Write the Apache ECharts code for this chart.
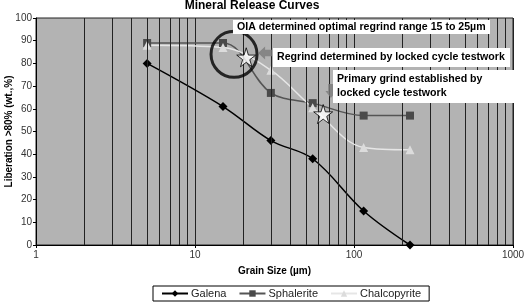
<!DOCTYPE html>
<html>
<head>
<meta charset="utf-8">
<script src="https://cdn.jsdelivr.net/npm/echarts@6/dist/echarts.min.js"></script>
<style>
	html, body {margin: 0; padding: 0; background: #fff;}
	#chart {width: 525px; height: 303px;}
</style>
</head>
<body>
<div id="chart"></div>
<script>
// grain sizes (µm) and liberation values
const grainSizes = [5, 15, 30, 55, 115, 225];
const galena = [80, 61, 46, 38, 15, 0];
const sphalerite = [89, 89, 67, 62.5, 57, 57];
const chalcopyrite = [88, 87, 77, 60.5, 43, 42];

// log axis minor grid lines
const minorGrid = [2, 3, 4, 5, 6, 7, 8, 9, 20, 30, 40, 50, 60, 70, 80, 90, 200, 300, 400, 500, 600, 700, 800, 900];

// annotation anchors in data space
const stars = [[21, 82.7], [64, 57.7]];
const ring = [[17.6, 84]];
const arrowLeft = [[27.6, 84.6]];
const arrowDown = [[71.6, 67.8]];

const pairs = values => grainSizes.map((x, i) => [x, values[i]]);

const starPath = 'path://M50,0 L61,35 L98,35 L68,57 L79,91 L50,70 L21,91 L32,57 L2,35 L39,35 Z';
const arrowPath = 'path://M0,10 L10,0 L10,5 L20,5 L20,15 L10,15 L10,20 Z';

const chart = echarts.init(document.getElementById('chart'));

const boxText = (left, top, width, height, lines) => ({
	type: 'group',
	left: left,
	top: top,
	z: 100,
	children: [
		{type: 'rect', z: 100, shape: {x: 0, y: 0, width: width, height: height}, style: {fill: '#fff'}},
		{
			type: 'text',
			z: 101,
			x: 4,
			y: height / 2,
			style: {
				text: lines,
				font: 'bold 10.6px "Liberation Sans", Arial, sans-serif',
				fill: '#000',
				verticalAlign: 'middle',
				lineHeight: 14
			}
		}
	]
});

chart.setOption({
	animation: false,
	backgroundColor: '#fff',
	title: {
		text: 'Mineral Release Curves',
		left: 247,
		textAlign: 'center',
		top: -5,
		textStyle: {fontFamily: '"Liberation Sans", Arial', fontSize: 12, fontWeight: 'bold', color: '#000'}
	},
	grid: {
		left: 36, right: 12, top: 18, bottom: 58,
		outerBoundsMode: 'none',
		containLabel: false,
		show: true,
		backgroundColor: '#b3b3b3',
		borderColor: '#222',
		borderWidth: 1
	},
	legend: {
		left: 153,
		top: 286,
		padding: [2, 8],
		itemGap: 12,
		itemWidth: 26,
		itemHeight: 8,
		borderColor: '#000',
		borderWidth: 1,
		borderRadius: 0,
		textStyle: {fontFamily: '"Liberation Sans", Arial', fontSize: 11, color: '#222', padding: [0, 0, 0, -2]},
		data: ['Galena', 'Sphalerite', 'Chalcopyrite']
	},
	xAxis: {
		type: 'log',
		logBase: 10,
		min: 1,
		max: 1000,
		name: 'Grain Size (µm)',
		nameLocation: 'middle',
		nameGap: 21,
		nameMoveOverlap: false,
		nameTextStyle: {fontFamily: '"Liberation Sans", Arial', fontSize: 10, fontWeight: 'bold', color: '#000'},
		axisLine: {lineStyle: {color: '#000'}},
		axisTick: {show: true, length: 3, lineStyle: {color: '#000'}},
		axisLabel: {
			fontFamily: '"Liberation Sans", Arial', fontSize: 10, color: '#333', margin: 5,
			formatter: v => String(Math.round(v))
		},
		splitLine: {show: true, lineStyle: {color: '#222', width: 1}}
	},
	yAxis: {
		type: 'value',
		min: 0,
		max: 100,
		interval: 10,
		name: 'Liberation >80% (wt.,%)',
		nameLocation: 'middle',
		nameGap: 22,
		nameMoveOverlap: false,
		nameTextStyle: {fontFamily: '"Liberation Sans", Arial', fontSize: 10, fontWeight: 'bold', color: '#000'},
		axisLine: {show: true, lineStyle: {color: '#000'}},
		axisTick: {show: true, length: 3, lineStyle: {color: '#000'}},
		axisLabel: {fontFamily: '"Liberation Sans", Arial', fontSize: 10, color: '#333', margin: 4},
		splitLine: {show: false}
	},
	series: [
		{
			name: 'grid',
			type: 'line',
			data: [],
			z: 1,
			silent: true,
			markLine: {
				silent: true,
				symbol: ['none', 'none'],
				label: {show: false},
				lineStyle: {color: '#222', width: 1, type: 'solid'},
				data: minorGrid.map(v => ({xAxis: v}))
			}
		},
		{
			name: 'Galena',
			type: 'line',
			smooth: 0.35,
			z: 3,
			data: pairs(galena),
			symbol: 'diamond',
			symbolSize: 9,
			lineStyle: {color: '#000', width: 1.5},
			itemStyle: {color: '#000'}
		},
		{
			name: 'Sphalerite',
			type: 'line',
			smooth: 0.35,
			z: 3,
			data: pairs(sphalerite),
			symbol: 'rect',
			symbolSize: 8,
			lineStyle: {color: '#555', width: 1.5},
			itemStyle: {color: '#4a4a4a'}
		},
		{
			name: 'Chalcopyrite',
			type: 'line',
			smooth: 0.35,
			z: 3,
			data: pairs(chalcopyrite),
			symbol: 'triangle',
			symbolSize: 9,
			lineStyle: {color: '#e6e6e6', width: 1.5},
			itemStyle: {color: '#dcdcdc'}
		},
		{
			type: 'scatter',
			z: 5,
			silent: true,
			data: ring,
			symbol: 'circle',
			symbolSize: 46,
			itemStyle: {color: 'transparent', borderColor: '#000', borderWidth: 3}
		},
		{
			type: 'scatter',
			z: 6,
			silent: true,
			data: arrowLeft,
			symbol: arrowPath,
			symbolSize: [14, 13],
			itemStyle: {color: '#7a7a7a'}
		},
		{
			type: 'scatter',
			z: 6,
			silent: true,
			data: arrowDown,
			symbol: arrowPath,
			symbolSize: [14, 11],
			symbolRotate: 90,
			itemStyle: {color: '#7a7a7a'}
		},
		{
			type: 'scatter',
			z: 7,
			silent: true,
			data: stars,
			symbol: starPath,
			symbolSize: 19,
			itemStyle: {color: '#fff', borderColor: '#000', borderWidth: 1}
		}
	],
	graphic: [
		boxText(233, 20, 257, 14, 'OIA determined optimal regrind range 15 to 25µm'),
		boxText(273, 48, 237, 19, 'Regrind determined by locked cycle testwork'),
		boxText(333, 70, 192, 33, 'Primary grind established by\nlocked cycle testwork')
	]
});
</script>
</body>
</html>
